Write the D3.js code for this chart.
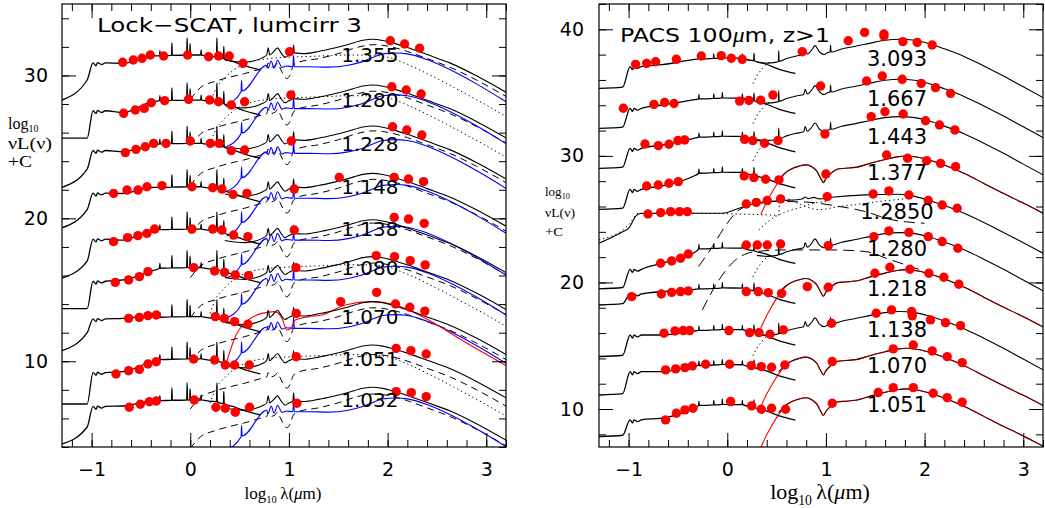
<!DOCTYPE html>
<html><head><meta charset="utf-8">
<script src="https://cdn.jsdelivr.net/npm/d3@7"></script>
<style>body{margin:0;background:#fff}svg{display:block}</style>
</head><body>
<script>
// ================= DATA =================
const xMajorTicks = [-1, 0, 1, 2, 3];
const leftYMajor = [10, 20, 30];
const rightYMajor = [10, 20, 30, 40];

// ---- LEFT panel (Lock-SCAT, lumcirr 3) ----
const leftZ = ["1.355","1.280","1.228","1.148","1.138","1.080","1.070","1.051","1.032"];
const leftLevel = [31.43, 28.28, 25.25, 22.21, 19.25, 16.55, 13.12, 10.16, 7.29];
const leftIrShift = [0.05, 0.0, 0.16, -0.11, -0.4, -0.28, 0.0, -0.07, -0.16];
const leftDashShift = [0.0, -0.1, 0.15, -0.2, -0.3, -0.4, -0.1, -0.4, -0.3];
const leftDotShift = [-0.2, 0.1, null, null, null, 0.0, null, 0.1, null];
const leftBlueShift = [0.08, 0.3, 0.2, 0.1, 0.13, 0.04, 0.08, null, 0.08];
const leftRedShift = [null, null, null, null, null, null, 0.0, null, null];
// [UV tail at -1.3, UV tail at -1.045, after break, at -0.68, at -0.4]
const leftStellarParams = [
  [-3.15,-1.75,-0.55,-0.58,-0.07],
  [-2.66,-2.66,-0.75,-0.87,-0.15],
  [-3.08,-1.8,-0.5,-0.58,-0.15],
  [-2.87,-1.6,-0.45,-0.47,-0.05],
  [-3.43,-2.24,-0.7,-0.77,-0.1],
  [-2.87,-2.87,-0.95,-0.86,-0.25],
  [-2.38,-1.12,-0.15,-0.12,0.05],
  [-3.15,-3.15,-0.95,-0.89,-0.2],
  [-3.08,-1.89,-0.45,-0.42,-0.07]];
const leftPtsX = [
  [-0.685,-0.577,-0.489,-0.405,-0.270,-0.027,0.186,0.287,0.395,0.534,1.007,2.027,2.172,2.324],
  [-0.675,-0.557,-0.466,-0.395,-0.26,-0.017,0.196,0.287,0.416,0.551,1.02,2.043,2.189,2.34],
  [-0.658,-0.550,-0.456,-0.371,-0.246,0.0,0.203,0.294,0.416,0.551,1.024,2.05,2.195,2.347],
  [-0.777,-0.641,-0.53,-0.439,-0.287,0.017,0.227,0.321,0.433,0.574,1.054,1.51,2.067,2.212,2.364],
  [-0.777,-0.635,-0.53,-0.439,-0.361,0.017,0.227,0.321,0.439,0.584,1.054,2.067,2.212,2.371],
  [-0.76,-0.625,-0.516,-0.429,0.034,0.247,0.348,0.456,0.591,1.071,1.885,2.07,2.229,2.381],
  [-0.625,-0.516,-0.429,-0.344,0.254,0.345,0.449,0.584,1.074,1.524,1.889,2.08,2.225,2.377],
  [-0.753,-0.625,-0.516,-0.429,-0.344,0.034,0.247,0.355,0.449,0.598,1.074,2.087,2.236,2.391],
  [-0.618,-0.506,-0.415,-0.344,0.041,0.26,0.355,0.456,0.601,1.081,2.087,2.24,2.391]];
const leftPtsY = [
  [30.92,31.08,31.20,31.43,31.36,31.43,31.31,31.36,31.36,30.85,31.66,32.43,32.20,31.90],
  [27.35,27.58,27.70,28.09,28.24,28.33,28.28,28.16,27.93,28.16,28.63,29.21,28.98,28.70],
  [24.60,24.83,25.01,25.25,25.25,25.41,25.25,25.25,24.74,24.78,25.41,26.41,26.18,25.83],
  [21.75,21.98,21.98,22.21,22.29,22.21,22.14,22.05,21.68,21.75,22.05,22.87,22.87,22.75,22.57],
  [18.37,18.65,18.79,18.95,19.25,19.25,19.25,19.18,18.83,18.72,19.18,20.07,19.95,19.65],
  [15.52,15.69,15.92,16.27,16.55,16.32,16.22,16.04,15.99,16.55,17.39,17.32,17.04,16.74],
  [13.0,13.07,13.19,13.24,13.12,13.0,12.77,12.59,13.35,14.17,14.82,14.01,13.78,13.51],
  [9.11,9.34,9.43,9.81,9.97,10.16,10.09,9.74,9.74,9.74,10.32,10.90,10.74,10.51],
  [6.78,6.99,7.17,7.22,7.29,6.78,6.71,6.43,6.78,7.06,7.87,7.80,7.52]];

// left templates: [log lambda, offset from row level]
const leftStellarTail = [[-0.312,-0.04],[-0.308,0.3],[-0.304,-0.04],[-0.19,-0.02],[-0.186,0.85],[-0.182,-0.02],
  [-0.036,0.0],[-0.032,1.2],[-0.028,0.0],[-0.006,0.0],[-0.002,0.8],[0.002,0.0],[0.106,0.0],[0.11,0.35],[0.114,0.0],
  [0.266,-0.12],[0.27,1.2],[0.274,-0.13],[0.336,-0.25],[0.34,0.6],[0.344,-0.27],[0.43,-0.45],[0.55,-0.75],[0.71,-1.05]];
const leftTotalTpl = [[0.35,-0.4],[0.45,-0.5],[0.55,-0.55],[0.65,-0.45],[0.73,-0.25],[0.775,-0.05],[0.79,0.45],[0.805,-0.05],
  [0.84,0.15],[0.885,0.45],[0.92,0.1],[0.96,-0.2],[1.0,-0.05],[1.04,0.1],[1.047,0.65],[1.055,0.1],[1.15,0.05],[1.3,0.2],
  [1.45,0.42],[1.6,0.68],[1.75,0.98],[1.85,1.05],[1.95,0.97],[2.05,0.8],[2.2,0.48],[2.4,-0.02],[2.63,-0.6],[2.9,-1.5],
  [3.2,-2.65]];
const leftDashTpl = [[0.0,-3.1],[0.1,-2.3],[0.25,-1.85],[0.4,-1.55],[0.55,-1.3],[0.7,-1.0],[0.775,-0.85],[0.79,-0.55],
  [0.81,-0.85],[0.86,-0.75],[0.885,-0.55],[0.91,-0.9],[0.95,-1.45],[0.98,-1.65],[1.01,-1.4],[1.045,-0.75],[1.1,-0.5],
  [1.3,-0.25],[1.5,0.1],[1.7,0.55],[1.85,0.72],[1.95,0.68],[2.05,0.55],[2.2,0.25],[2.4,-0.25],[2.63,-0.85],[2.9,-1.75],
  [3.2,-2.9]];
const leftDotTpl = [[0.2,-3.2],[0.25,-2.3],[0.35,-1.4],[0.45,-0.8],[0.6,-0.3],[0.8,-0.05],[1.0,0.05],[1.2,0.1],[1.4,0.15],
  [1.6,0.2],[1.8,0.2],[2.0,0.05],[2.2,-0.45],[2.4,-1.1],[2.6,-1.8],[2.8,-2.55],[3.0,-3.3],[3.2,-4.1]];
const leftBlueTpl = [[0.37,-3.55],[0.515,-2.65],[0.52,-1.85],[0.525,-2.6],[0.775,-0.8],[0.79,-1.0],[0.82,-0.5],[0.85,-1.0],
  [0.885,-0.45],[0.93,-0.95],[0.97,-0.85],[1.04,-0.9],[1.047,-0.1],[1.055,-0.9],[1.2,-0.9],[1.4,-0.93],[1.6,-0.8],
  [1.74,-0.56],[1.85,-0.25],[1.95,0.0],[2.08,0.06],[2.2,0.0],[2.4,-0.4],[2.63,-1.1],[2.9,-2.1],[3.2,-3.35]];
const leftRedTpl = [[0.365,-3.26],[0.456,-1.4],[0.59,-0.23],[0.726,0.23],[0.86,0.35],[0.93,-0.12],[0.98,-0.93],[1.03,-0.7],
  [1.064,-0.23],[1.2,0.0],[1.334,0.12],[1.57,0.82],[1.84,1.05],[2.08,0.82],[2.415,-0.23],[2.75,-1.63],[3.2,-3.42]];

// ---- RIGHT panel (PACS 100um, z>1) ----
const rightZ = ["3.093","1.667","1.443","1.377","1.2850","1.280","1.218","1.138","1.070","1.051"];
const rightLevel = [37.71, 34.55, 31.52, 28.67, 25.6, 22.7, 19.54, 16.25, 13.48, 10.33];
const rightKind = ["pah","pah","pah","arp","agn","pah","arp","pah","arp","arp"];
const rightIrShift = [0.0, 0.0, 0.08, 0.0, 0.0, -0.26, 0.15, -0.05, 0.0, -0.06];
// [UV floor, after break, at -0.66, at -0.35]
const rightStellarParams = [
  [-2.37,-0.65,-0.5,-0.1],[-2.37,-0.79,-0.53,-0.13],[-2.5,-0.92,-0.66,-0.15],[-2.9,-1.32,-1.05,-0.3],null,
  [-3.2,-1.66,-1.18,-0.4],[-1.32,-0.45,-0.26,-0.1],[-2.1,-0.4,-0.4,-0.1],[-2.37,-0.53,-0.53,-0.1],[-2.5,-1.18,-1.05,-0.3]];
const rightPtsX = [
  [-0.929,-0.817,-0.726,-0.516,-0.263,-0.061,0.041,0.152,0.76,1.226,1.392,1.588,1.588,1.78,1.925,2.077],
  [-1.053,-0.743,-0.635,-0.54,0.125,0.22,0.338,0.463,0.946,1.412,1.571,1.773,1.966,2.111,2.263],
  [-0.834,-0.699,-0.591,-0.5,-0.432,0.176,0.26,0.378,0.514,0.99,1.459,1.598,1.783,2.01,2.151,2.307],
  [-0.817,-0.7,-0.591,-0.496,0.172,0.27,0.389,0.524,1.0,1.615,1.828,2.02,2.162,2.314],
  [-0.804,-0.675,-0.574,-0.483,-0.405,0.193,0.294,0.405,0.541,1.013,1.479,1.638,1.841,2.037,2.178,2.33],
  [-0.675,-0.564,-0.473,-0.395,0.193,0.304,0.405,0.541,1.024,1.486,1.638,1.841,2.037,2.178,2.337],
  [-0.969,-0.668,-0.564,-0.473,-0.395,0.193,0.314,0.416,0.551,0.811,1.024,1.496,1.648,1.851,2.043,2.195,2.347],
  [-0.641,-0.53,-0.446,-0.381,0.017,0.227,0.321,0.433,0.568,1.057,1.51,1.665,1.868,1.875,2.06,2.212,2.364],
  [-0.625,-0.523,-0.429,-0.354,-0.219,0.024,0.243,0.345,0.449,0.584,1.064,1.682,1.885,2.077,2.229,2.381],
  [-0.625,-0.516,-0.429,-0.348,0.034,0.247,0.345,0.449,0.591,1.064,1.53,1.682,1.885,2.087,2.229,2.381]];
const rightPtsY = [
  [37.23,37.31,37.44,37.63,37.89,37.92,37.71,37.63,38.23,39.10,39.76,39.63,39.47,39.03,38.97,38.76],
  [33.76,34.07,34.22,34.14,34.33,34.38,34.40,34.81,35.52,35.92,36.31,36.05,35.73,35.39,34.94],
  [30.94,30.81,30.92,31.21,31.26,31.31,31.21,31.0,31.21,31.73,33.10,33.49,33.31,32.78,32.44,32.05],
  [27.62,27.70,27.84,27.97,28.41,28.28,28.15,28.10,28.57,30.07,29.81,29.62,29.41,29.15],
  [25.41,25.52,25.60,25.60,25.60,26.20,26.33,26.47,26.60,26.78,26.99,27.23,26.91,26.47,26.12,25.86],
  [21.52,21.70,21.91,22.25,22.96,22.96,22.96,23.04,22.91,23.62,24.07,23.96,23.62,23.23,22.70],
  [18.88,19.09,19.22,19.28,19.33,19.28,19.28,19.20,19.14,19.67,19.62,20.73,21.20,21.04,20.73,20.41,19.86],
  [15.99,16.17,16.20,16.20,16.20,16.04,16.04,15.91,16.25,16.78,17.57,17.83,17.70,17.36,17.04,16.83,16.59],
  [13.09,13.17,13.27,13.41,13.54,13.54,13.43,13.35,13.30,13.48,13.75,14.75,15.06,14.59,14.14,13.67],
  [9.14,9.67,9.93,10.06,10.59,10.25,9.98,10.06,9.98,10.46,11.30,11.69,11.69,11.25,10.90,10.54]];

const rightStellarTail = [[-0.29,-0.04],[-0.287,0.3],[-0.284,-0.04],[-0.14,0.0],[-0.137,0.35],[-0.134,0.0],
  [-0.053,0.04],[-0.05,0.45],[-0.047,0.04],[0.15,0.02],[0.153,0.35],[0.156,0.02],[0.268,-0.18],[0.271,0.4],[0.274,-0.19],
  [0.39,-0.45],[0.52,-0.85],[0.69,-1.2]];
const rightPahTpl = [[0.3,-0.3],[0.4,-0.38],[0.5,-0.3],[0.518,-0.25],[0.522,0.6],[0.526,-0.24],[0.6,-0.02],[0.7,0.18],
  [0.775,0.3],[0.79,0.72],[0.81,0.35],[0.85,0.6],[0.89,1.0],[0.93,0.55],[0.98,0.3],[1.02,0.45],[1.042,0.5],[1.047,1.05],
  [1.052,0.5],[1.15,0.72],[1.3,0.95],[1.45,1.2],[1.6,1.42],[1.75,1.5],[1.9,1.42],[2.05,1.15],[2.2,0.75],[2.4,0.15],
  [2.6,-0.6],[2.8,-1.4],[3.0,-2.25],[3.2,-3.1]];
const rightPahDotTpl = [[0.26,-2.0],[0.3,-1.4],[0.35,-0.85],[0.4,-0.45],[0.45,-0.28]];
const rightArpTpl = [[0.35,-0.45],[0.45,-0.6],[0.52,-0.55],[0.58,-0.05],[0.65,0.3],[0.72,0.5],[0.8,0.62],[0.86,0.45],
  [0.91,0.1],[0.95,-0.5],[0.975,-0.78],[1.0,-0.45],[1.05,-0.05],[1.12,0.3],[1.2,0.35],[1.3,0.42],[1.45,0.75],[1.6,1.05],
  [1.72,1.25],[1.82,1.32],[1.95,1.2],[2.08,0.92],[2.25,0.45],[2.42,-0.13],[2.6,-0.85],[2.75,-1.45],[3.0,-2.4],[3.2,-3.2]];
const rightArpRise = [[0.34,-3.3],[0.4,-2.3],[0.45,-1.6],[0.5,-0.95],[0.55,-0.4],[0.6,0.05]];
// special row 1.2850
const r5Solid = [[-1.3,-2.5],[-1.05,-1.55],[-1.0,-1.32],[-0.92,-0.3],[-0.88,-0.15],[-0.6,-0.13],[-0.05,-0.13],[0.12,0.26],
  [0.29,0.66],[0.56,0.87],[0.76,1.0],[0.79,1.15],[0.82,1.02],[0.88,1.12],[0.93,1.0],[1.06,1.13],[1.4,1.32],[1.74,1.37],
  [1.91,1.18],[2.08,0.79],[2.4,-0.13],[2.75,-1.45],[3.2,-3.29]];
const r5DotA = [[-1.3,-2.24],[-1.0,-1.05],[-0.9,-0.13],[-0.6,-0.12],[0.4,-0.26],[0.52,-0.3],[0.53,0.85]];
const r5DotB = [[0.32,-1.45],[0.46,-0.53],[0.6,0.0],[0.73,0.3],[0.9,0.7],[1.0,0.8]];
const r5DotC = [[0.62,1.0],[0.75,0.55],[0.93,0.15],[1.1,0.35],[1.3,0.55],[1.6,0.85],[1.8,1.0]];
const r5Dash = [[-0.29,-4.34],[-0.15,-2.76],[0.0,-0.92],[0.12,0.13],[0.3,0.6],[0.5,0.8],[0.8,0.75],[1.1,0.45],[1.4,0.0],
  [1.64,-0.6],[2.0,-0.92]];
const r6Dash = [[-0.253,-4.87],[-0.084,-2.5],[0.084,-0.92],[0.287,-0.26],[0.59,-0.13],[1.06,-0.13],[1.4,-0.26],
  [1.64,-0.87],[1.94,-1.66]];

// ================= DRAWING =================
const W = 1045, H = 508;
const svg = d3.select("body").append("svg").attr("width", W).attr("height", H);
const defs = svg.append("defs");
const SANS = "DejaVu Sans, sans-serif", SERIF = "Liberation Serif, serif";

function makePanel(o) {
  const x = d3.scaleLinear().domain([-1.3, 3.2]).range([o.left, o.right]);
  const y = d3.scaleLinear().domain(o.yDomain).range([o.bottom, o.top]);
  defs.append("clipPath").attr("id", "clip" + o.id).append("rect")
    .attr("x", o.left).attr("y", o.top).attr("width", o.right - o.left).attr("height", o.bottom - o.top);
  const g = svg.append("g");
  const plot = g.append("g").attr("clip-path", `url(#clip${o.id})`);
  const minorX = d3.range(-6, 17).map(i => +(i * 0.2).toFixed(1));
  const minorY = d3.range(Math.ceil(o.yDomain[0] / 2), Math.floor(o.yDomain[1] / 2) + 1).map(i => i * 2);
  const style = sel => { sel.select(".domain").remove(); sel.selectAll("line").attr("stroke", "#000").attr("stroke-width", 1); };
  const tf = d3.format("d");
  g.append("g").attr("transform", `translate(0,${o.bottom})`)
    .call(d3.axisBottom(x).tickValues(xMajorTicks).tickSize(-14).tickPadding(16).tickFormat(tf)).call(style)
    .selectAll("text").attr("font-family", SANS).attr("font-size", 19).attr("fill", "#000");
  g.append("g").attr("transform", `translate(0,${o.bottom})`)
    .call(d3.axisBottom(x).tickValues(minorX).tickSize(-7).tickFormat("")).call(style);
  g.append("g").attr("transform", `translate(0,${o.top})`)
    .call(d3.axisTop(x).tickValues(xMajorTicks).tickSize(-14).tickFormat("")).call(style);
  g.append("g").attr("transform", `translate(0,${o.top})`)
    .call(d3.axisTop(x).tickValues(minorX).tickSize(-7).tickFormat("")).call(style);
  g.append("g").attr("transform", `translate(${o.left},0)`)
    .call(d3.axisLeft(y).tickValues(o.yMajor).tickSize(-14).tickPadding(o.labelPad).tickFormat(tf)).call(style)
    .selectAll("text").attr("font-family", SANS).attr("font-size", 19).attr("fill", "#000");
  g.append("g").attr("transform", `translate(${o.left},0)`)
    .call(d3.axisLeft(y).tickValues(minorY).tickSize(-7).tickFormat("")).call(style);
  g.append("g").attr("transform", `translate(${o.right},0)`)
    .call(d3.axisRight(y).tickValues(o.yMajor).tickSize(-14).tickFormat("")).call(style);
  g.append("g").attr("transform", `translate(${o.right},0)`)
    .call(d3.axisRight(y).tickValues(minorY).tickSize(-7).tickFormat("")).call(style);
  g.append("rect").attr("x", o.left).attr("y", o.top).attr("width", o.right - o.left).attr("height", o.bottom - o.top)
    .attr("fill", "none").attr("stroke", "#000").attr("stroke-width", 1.2);
  return { x, y, g, plot };
}

function drawCurve(P, pts, level, shift, color, dash, width) {
  const line = d3.line().x(d => P.x(d[0])).y(d => P.y(level + shift + d[1])).curve(d3.curveMonotoneX);
  P.plot.append("path").attr("d", line(pts)).attr("fill", "none").attr("stroke", color)
    .attr("stroke-width", width || 1).attr("stroke-dasharray", dash || null).attr("stroke-linejoin", "round");
}
function drawPoints(P, xs, ys) {
  P.plot.selectAll(null).data(xs.map((v, i) => [v, ys[i]])).enter().append("circle")
    .attr("cx", d => P.x(d[0])).attr("cy", d => P.y(d[1])).attr("r", 4.7).attr("fill", "#ff0000");
}
function leftStellar(p) {
  return [[-1.3, p[0]], [-1.045, p[1]], [-0.985, p[2]], [-0.955, p[2] - 0.2], [-0.94, p[2] + 0.02], [-0.9, p[2] - 0.12],
    [-0.86, p[2]], [-0.68, p[3]], [-0.4, p[4]]].concat(leftStellarTail);
}
function rightStellar(p) {
  return [[-1.3, p[0]], [-1.06, p[0] + 0.1], [-0.985, p[1]], [-0.96, p[1] - 0.25], [-0.945, p[1]], [-0.91, p[1] - 0.15],
    [-0.87, p[1]], [-0.66, p[2]], [-0.35, p[3]]].concat(rightStellarTail);
}

// ---------- LEFT PANEL ----------
const L = makePanel({ id: "L", left: 62, right: 506, top: 4, bottom: 447, yDomain: [4, 35], yMajor: leftYMajor, labelPad: 14 });
const DASH = "7,5", DOT = "1.3,3";
leftLevel.forEach((lev, i) => {
  const s = leftIrShift[i];
  drawCurve(L, leftDashTpl, lev, leftDashShift[i], "#000", DASH, 1);
  if (leftDotShift[i] !== null) drawCurve(L, leftDotTpl, lev, leftDotShift[i], "#000", DOT, 1);
  if (leftBlueShift[i] !== null) drawCurve(L, leftBlueTpl, lev, leftBlueShift[i], "#0000ff", null, 1.1);
  if (leftRedShift[i] !== null) drawCurve(L, leftRedTpl, lev, leftRedShift[i], "#ff0000", null, 1.1);
  drawCurve(L, leftTotalTpl, lev, s, "#000", null, 1.1);
  drawCurve(L, leftStellar(leftStellarParams[i]), lev, 0, "#000", null, 1.3);
});
leftLevel.forEach((lev, i) => drawPoints(L, leftPtsX[i], leftPtsY[i]));
L.g.selectAll(null).data(leftZ).enter().append("text")
  .attr("x", L.x(1.82)).attr("y", (d, i) => L.y(leftLevel[i])).attr("dy", "0.36em")
  .attr("text-anchor", "middle").attr("font-family", SANS).attr("font-size", 20).text(d => d);

// ---------- RIGHT PANEL ----------
const R = makePanel({ id: "R", left: 599, right: 1043, top: 4, bottom: 447, yDomain: [7, 42], yMajor: rightYMajor, labelPad: 15 });
const LDASH = "11,6";
rightLevel.forEach((lev, i) => {
  const s = rightIrShift[i], k = rightKind[i];
  if (k === "pah") {
    drawCurve(R, rightPahDotTpl, lev, s, "#000", DOT, 1);
    drawCurve(R, rightPahTpl, lev, s, "#000", null, 1.1);
    drawCurve(R, rightStellar(rightStellarParams[i]), lev, 0, "#000", null, 1.3);
  } else if (k === "arp") {
    drawCurve(R, rightArpRise.concat(rightArpTpl.filter(d => d[0] > 0.62)), lev, s, "#ff0000", null, 1.1);
    drawCurve(R, rightStellar(rightStellarParams[i]), lev, 0, "#000", null, 1.3);
    drawCurve(R, rightArpTpl.filter(d => d[0] > 0.5), lev, s, "#4a0a0a", null, 1.1);
  } else {
    drawCurve(R, r5DotA, lev, 0, "#000", DOT, 1);
    drawCurve(R, r5DotB, lev, 0, "#000", DOT, 1);
    drawCurve(R, r5DotC, lev, 0, "#000", DOT, 1);
    drawCurve(R, r5Dash, lev, 0, "#000", LDASH, 1);
    drawCurve(R, r5Solid, lev, 0, "#000", null, 1.1);
  }
  if (i === 5) drawCurve(R, r6Dash, lev, 0, "#000", LDASH, 1);
});
rightLevel.forEach((lev, i) => drawPoints(R, rightPtsX[i], rightPtsY[i]));
R.g.selectAll(null).data(rightZ).enter().append("text")
  .attr("x", R.x(1.72)).attr("y", (d, i) => R.y(rightLevel[i])).attr("dy", "0.36em")
  .attr("text-anchor", "middle").attr("font-family", SANS).attr("font-size", 21).text(d => d);

// ---------- titles & axis labels ----------
svg.append("text").attr("x", 97).attr("y", 32).attr("font-family", SANS).attr("font-size", 20)
  .attr("textLength", 265).attr("lengthAdjust", "spacingAndGlyphs").text("Lock\u2212SCAT, lumcirr 3");
const rt = svg.append("text").attr("x", 620).attr("y", 42).attr("font-family", SANS).attr("font-size", 20)
  .attr("textLength", 210).attr("lengthAdjust", "spacingAndGlyphs");
rt.append("tspan").text("PACS 100");
rt.append("tspan").attr("font-style", "italic").attr("font-family", SERIF).text("\u03bc");
rt.append("tspan").text("m, z>1");

function xTitle(cx, baseline, size) {
  const t = svg.append("text").attr("x", cx).attr("y", baseline).attr("text-anchor", "middle")
    .attr("font-family", SERIF).attr("font-size", size);
  t.append("tspan").text("log");
  t.append("tspan").attr("font-size", size * 0.62).attr("dy", size * 0.25).text("10");
  t.append("tspan").attr("dy", -size * 0.25).text("\u2009\u03bb(");
  t.append("tspan").attr("font-style", "italic").text("\u03bc");
  t.append("tspan").text("m)");
}
xTitle(283, 499, 17);
xTitle(820, 499, 22);

function yTitle(x0, b0, size, gap, wLog, wNu, wC) {
  const t1 = svg.append("text").attr("x", x0).attr("y", b0).attr("font-family", SERIF).attr("font-size", size);
  t1.append("tspan").text("log");
  t1.append("tspan").attr("font-size", size * 0.62).attr("dy", size * 0.2).text("10");
  svg.append("text").attr("x", x0).attr("y", b0 + gap + 2).attr("font-family", SERIF).attr("font-size", size)
    .attr("textLength", wNu).attr("lengthAdjust", "spacingAndGlyphs").text("\u03bdL(\u03bd)");
  svg.append("text").attr("x", x0).attr("y", b0 + 2 * gap + 2).attr("font-family", SERIF).attr("font-size", size)
    .attr("textLength", wC).attr("lengthAdjust", "spacingAndGlyphs").text("+C");
}
yTitle(8, 129, 16, 18, 39, 44, 24);
yTitle(545, 196, 13, 19, 29, 30, 18);
</script>
</body></html>
